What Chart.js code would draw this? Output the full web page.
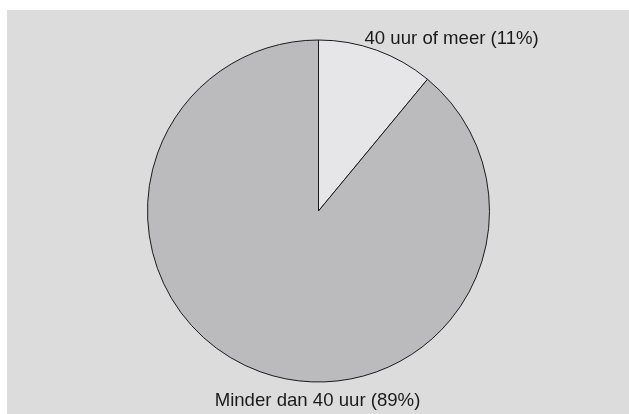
<!DOCTYPE html>
<html>
<head>
<meta charset="utf-8">
<script src="https://cdn.jsdelivr.net/npm/chart.js@4"></script>
<style>
  html, body { margin: 0; padding: 0; background: #fff; }
  #panel { position: absolute; left: 7px; top: 10px; width: 622px; height: 404px; background: #dcdcdd; }
  #wrap { position: absolute; left: 0; top: 0; width: 629px; height: 414px; }
</style>
</head>
<body>
<div id="panel"></div>
<div id="wrap"><canvas id="pie" width="629" height="414"></canvas></div>
<script>
const categories = ["40 uur of meer", "Minder dan 40 uur"];
const shares = [11, 89];
const sliceColors = ["#e6e6e8", "#bbbbbe"];

// labels drawn next to the slices
const sliceLabels = {
  id: "sliceLabels",
  afterDatasetsDraw(chart) {
    const ctx = chart.ctx;
    const arcs = chart.getDatasetMeta(0).data;
    ctx.save();
    ctx.font = "18.6px 'Liberation Sans', Arial, sans-serif";
    ctx.fillStyle = "#1a1a1a";
    arcs.forEach((arc, i) => {
      const text = categories[i] + " (" + shares[i] + "%)";
      const top = arc.y - arc.outerRadius;
      const bottom = arc.y + arc.outerRadius;
      if (i === 0) {
        ctx.textAlign = "left";
        ctx.textBaseline = "alphabetic";
        ctx.fillText(text, arc.x + 46, top + 4);
      } else {
        ctx.textAlign = "center";
        ctx.textBaseline = "alphabetic";
        ctx.fillText(text, arc.x - 1, bottom + 24);
      }
    });
    ctx.restore();
  }
};

new Chart(document.getElementById("pie").getContext("2d"), {
  type: "pie",
  data: {
    labels: categories,
    datasets: [{
      data: shares,
      backgroundColor: sliceColors,
      borderColor: "#1a1a1a",
      borderWidth: 1
    }]
  },
  options: {
    responsive: false,
    animation: false,
    layout: { padding: { left: 147, right: 139, top: 39, bottom: 31 } },
    plugins: {
      legend: { display: false },
      tooltip: { enabled: false }
    }
  },
  plugins: [sliceLabels]
});
</script>
</body>
</html>
